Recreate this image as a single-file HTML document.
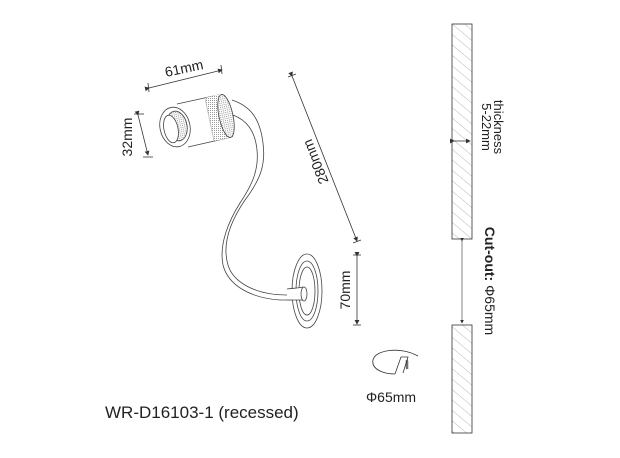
<!DOCTYPE html><html><head><style>body{margin:0;background:#fff}svg{display:block}text{font-family:"Liberation Sans",sans-serif;fill:#222}</style></head><body>
<svg width="620" height="458" viewBox="0 0 620 458" xmlns="http://www.w3.org/2000/svg">
<defs><pattern id="h" width="8" height="8" patternUnits="userSpaceOnUse" patternTransform="rotate(-50)"><line x1="0" y1="0" x2="0" y2="8" stroke="#999" stroke-width="0.7"/></pattern>
<pattern id="t" width="2" height="2" patternUnits="userSpaceOnUse"><rect width="2" height="2" fill="#fff"/><rect width="1" height="1" fill="#999"/></pattern>
<marker id="a" markerWidth="6" markerHeight="6" refX="5" refY="3" orient="auto"><path d="M0,0L6,3L0,6z" fill="#333"/></marker></defs>
<g fill="none" stroke="#444" stroke-width="0.8">
<!-- tube -->
<path d="M232,100 C250,106 260,118 263,143 C266,165 260,180 245,200 C230,222 222,245 228,265 C233,282 255,295 287,295 L303,294"/>
<path d="M233,115 C246,120 255,130 257,150 C259,170 252,185 240,203 C228,222 219,245 223,265 C228,285 250,298 280,300 L303,300"/>
<!-- base -->
<ellipse cx="307" cy="291" rx="15" ry="37" fill="#fff"/><ellipse cx="307" cy="291" rx="11" ry="30"/><ellipse cx="307" cy="291" rx="8" ry="24"/>
<path d="M287,289 L303,287 L303,300 L287,300" fill="#fff" stroke="none"/>
<path d="M287,289 C295,288 300,288 303,287 M287,300 L303,300"/>
<ellipse cx="304" cy="294" rx="3" ry="7"/>
<!-- head -->
<path d="M177,104 L218,95 L233,137 L188,147 Z" fill="#fff" stroke="none"/>
<path d="M177,104 L218,95 M188,147 L232,137"/>
<path d="M205,98 L220,94 L234,137 L214,141 Z" fill="url(#t)" stroke="none"/>
<line x1="205" y1="98" x2="214" y2="141" stroke="#bbb"/>
<ellipse cx="226" cy="116" rx="7" ry="22" transform="rotate(-12 226 116)" fill="url(#t)"/>
<ellipse cx="175" cy="127" rx="15" ry="20" transform="rotate(-12 175 127)" fill="#fff"/>
<ellipse cx="177" cy="126" rx="10" ry="15" transform="rotate(-12 177 126)" fill="url(#t)"/>
<ellipse cx="171" cy="129" rx="7" ry="14" transform="rotate(-12 171 129)" fill="#fff"/>
</g>
<g stroke="#333" stroke-width="0.8" fill="none">
<line x1="149" y1="88" x2="222" y2="70" marker-end="url(#a)" marker-start="url(#a)"/>
<line x1="148" y1="83" x2="149" y2="92"/><line x1="221" y1="65" x2="222" y2="74"/>
<line x1="138" y1="115" x2="148" y2="155" marker-end="url(#a)" marker-start="url(#a)"/>
<line x1="134" y1="114" x2="144" y2="114"/><line x1="143" y1="157" x2="153" y2="157"/>
<line x1="292" y1="76" x2="357" y2="241" marker-end="url(#a)" marker-start="url(#a)"/>
<line x1="288" y1="77" x2="296" y2="74"/><line x1="353" y1="243" x2="361" y2="240"/>
<line x1="357" y1="256" x2="357" y2="324" marker-end="url(#a)" marker-start="url(#a)"/>
<line x1="353" y1="255" x2="361" y2="255"/><line x1="353" y1="325" x2="361" y2="325"/>
<!-- wall -->
<rect x="452" y="24" width="20" height="215" fill="url(#h)"/>
<rect x="452" y="325" width="20" height="108" fill="url(#h)"/>
<line x1="454" y1="141" x2="470" y2="141" marker-end="url(#a)" marker-start="url(#a)"/>
<line x1="462" y1="241" x2="462" y2="323" stroke-width="0.6" marker-end="url(#a)" marker-start="url(#a)"/>
<!-- saw -->
<path d="M418,356 C400,346 375,350 373,360 C371,370 385,374 395,374"/>
<path d="M395,374 L401,357 L408,357 L403,373" />
<path d="M408,360 l-2,1 l2,1 l-2,1 l2,1 l-2,1 l2,1 l-2,1 l2,1 l-2,1"/>
</g>
<text x="185" y="73" font-size="14" text-anchor="middle" transform="rotate(-12 185 73)">61mm</text>
<text x="132" y="137" font-size="14" text-anchor="middle" transform="rotate(-90 132 137)">32mm</text>
<text x="320" y="160" font-size="14" text-anchor="middle" transform="rotate(-112 320 160)">280mm</text>
<text x="350" y="290" font-size="14" text-anchor="middle" transform="rotate(-90 350 290)">70mm</text>
<text x="494" y="127" font-size="13" text-anchor="middle" transform="rotate(90 494 127)">thickness</text>
<text x="482" y="127" font-size="13" text-anchor="middle" transform="rotate(90 482 127)">5-22mm</text>
<text x="485" y="281" font-size="14" text-anchor="middle" transform="rotate(90 485 281)"><tspan font-weight="bold">Cut-out:</tspan> Φ65mm</text>
<text x="366" y="402" font-size="14">Φ65mm</text>
<text x="105" y="418" font-size="17">WR-D16103-1 (recessed)</text>
</svg></body></html>
